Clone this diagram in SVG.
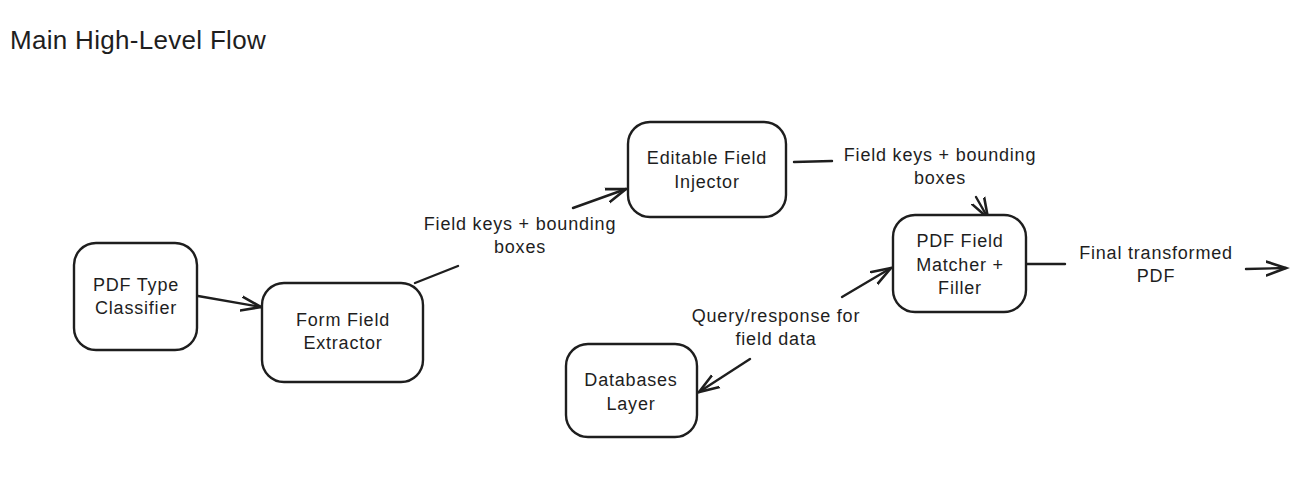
<svg xmlns="http://www.w3.org/2000/svg" width="1310" height="478" viewBox="0 0 1310 478">
<style>
.box{fill:#fff;stroke:#1e1e1e;stroke-width:2.4;}
.t{font-family:"Liberation Sans",Arial,sans-serif;font-size:18px;letter-spacing:0.8px;fill:#1e1e1e;text-anchor:middle;}
.title{font-family:"Liberation Sans",Arial,sans-serif;font-size:26px;letter-spacing:0.3px;fill:#1e1e1e;}
.c{fill:none;stroke:#1e1e1e;stroke-width:2.4;stroke-linecap:round;}
</style>
<defs>
<marker id="ah" markerUnits="userSpaceOnUse" markerWidth="24" markerHeight="20" refX="20" refY="8" orient="auto" viewBox="0 0 24 16">
<path d="M0,1 L20,8 L0,15" fill="none" stroke="#1e1e1e" stroke-width="2.6" stroke-linecap="round"/>
</marker>
</defs>
<rect width="1310" height="478" fill="#fff"/>
<text class="title" x="10" y="49">Main High-Level Flow</text>

<g id="connectors">
<path class="c" d="M198,296 L261,307" marker-end="url(#ah)"/>
<path class="c" d="M415,283 L458,266"/>
<path class="c" d="M573,208 L626,189" marker-end="url(#ah)"/>
<text class="t" x="520" y="230">Field keys + bounding</text>
<text class="t" x="520" y="253">boxes</text>
<path class="c" d="M794,162 L832,161"/>
<text class="t" x="940" y="161">Field keys + bounding</text>
<text class="t" x="940" y="184">boxes</text>
<path class="c" d="M976,197 L988,218" marker-end="url(#ah)"/>
<path class="c" d="M1027,264 L1065,264"/>
<text class="t" x="1156" y="259">Final transformed</text>
<text class="t" x="1156" y="282">PDF</text>
<path class="c" d="M1246,269 L1286,268" marker-end="url(#ah)"/>
<path class="c" d="M842,297 L891,268" marker-end="url(#ah)"/>
<text class="t" x="776" y="322">Query/response for</text>
<text class="t" x="776" y="345">field data</text>
<path class="c" d="M750,359 L699,392" marker-end="url(#ah)"/>
</g>

<g id="node-classifier">
<rect class="box" x="74" y="243" width="123" height="107" rx="22"/>
<text class="t" x="136" y="291">PDF Type</text>
<text class="t" x="136" y="314">Classifier</text>
</g>
<g id="node-extractor">
<rect class="box" x="262" y="283" width="161" height="99" rx="22"/>
<text class="t" x="343" y="326">Form Field</text>
<text class="t" x="343" y="349">Extractor</text>
</g>
<g id="node-injector">
<rect class="box" x="628" y="122" width="158" height="95" rx="22"/>
<text class="t" x="707" y="164">Editable Field</text>
<text class="t" x="707" y="188">Injector</text>
</g>
<g id="node-matcher">
<rect class="box" x="893" y="215" width="133" height="97" rx="22"/>
<text class="t" x="960" y="247">PDF Field</text>
<text class="t" x="960" y="271">Matcher +</text>
<text class="t" x="960" y="294">Filler</text>
</g>
<g id="node-databases">
<rect class="box" x="566" y="344" width="131" height="93" rx="22"/>
<text class="t" x="631" y="386">Databases</text>
<text class="t" x="631" y="410">Layer</text>
</g>
</svg>
